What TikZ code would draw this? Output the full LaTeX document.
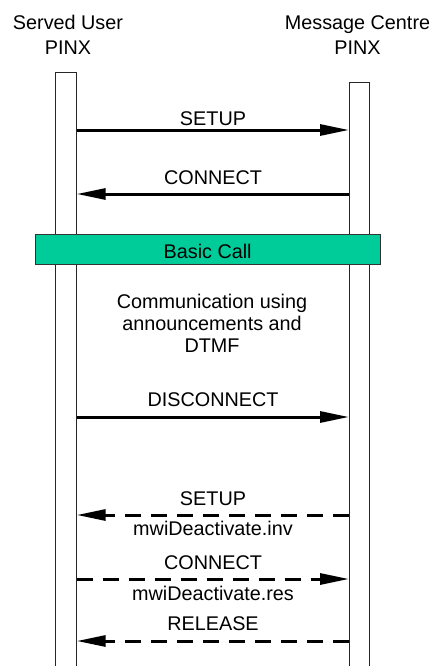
\documentclass[tikz,border=0pt]{standalone}
\usepackage{fontspec}
\setmainfont{Liberation Sans}
\usetikzlibrary{arrows.meta}
\definecolor{callgreen}{HTML}{00CC99}
\begin{document}
\begin{tikzpicture}[x=1pt,y=-1pt,
  every node/.style={font=\fontsize{19.8}{22}\selectfont, inner sep=0pt},
  lbl/.style={anchor=base},
  bar/.style={minimum width=20.5pt, minimum height=620pt, anchor=north west, draw=none},
  barline/.style={draw=black!85, line width=1pt},
  msg/.style={line width=3pt, -{Triangle[length=29pt,width=11pt]}, shorten >=0pt},
  dmsg/.style={msg, dash pattern=on 16pt off 10pt},
  callbox/.style={draw=black!80, line width=1pt, fill=callgreen, minimum width=344.7pt, minimum height=30pt}
]
\useasboundingbox (0,0) rectangle (436,666);
% headings
\node[lbl] (h1a) at (68,30) {Served User};
\node[lbl] (h1b) at (68,55) {PINX};
\node[lbl] (h2a) at (357.5,30) {Message Centre};
\node[lbl] (h2b) at (357.5,55) {PINX};
% bars
\node[bar] (L) at (55.8,72.7) {};
\node[bar] (R) at (349,82.7) {};
\draw[barline] (L.south west) |- (L.north east) -- (L.south east);
\draw[barline] (R.south west) |- (R.north east) -- (R.south east);
% messages
\draw[msg] (L.east |- 0,130) -- (R.west |- 0,130);
\node[lbl] (m1) at (213,125) {SETUP};
\draw[msg] (R.west |- 0,194) -- (L.east |- 0,194);
\node[lbl] (m2) at (213,184) {CONNECT};
% basic call
\node[callbox] (bc) at (207.65,249.3) {};
\node[lbl] (bct) at (207.65,258.3) {Basic Call};
\node[lbl] (comm) at (212,308.3) {\begin{tabular}[t]{@{}c@{}}Communication using\\announcements and\\DTMF\end{tabular}};
\draw[msg] (L.east |- 0,417) -- (R.west |- 0,417);
\node[lbl] (m3) at (213,406.7) {DISCONNECT};
\draw[dmsg] (R.west |- 0,515) -- (L.east |- 0,515);
\node[lbl] (m4) at (213,505) {SETUP};
\node[lbl] (m4b) at (213,535) {mwiDeactivate.inv};
\draw[dmsg] (L.east |- 0,579) -- (R.west |- 0,579);
\node[lbl] (m5) at (213,569) {CONNECT};
\node[lbl] (m5b) at (213,600) {mwiDeactivate.res};
\draw[dmsg] (R.west |- 0,641) -- (L.east |- 0,641);
\node[lbl] (m6) at (213,630) {RELEASE};
\end{tikzpicture}
\end{document}
